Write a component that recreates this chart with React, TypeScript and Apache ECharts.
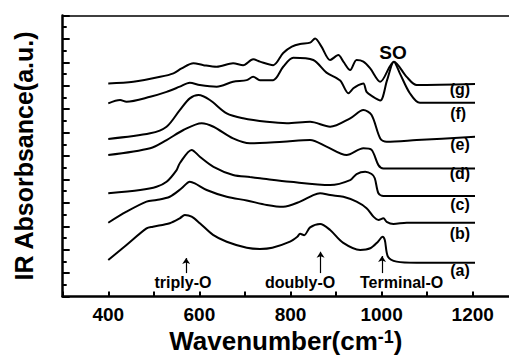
import React, { useEffect, useRef } from "react";
import * as echarts from "echarts";

// Wavenumber (cm-1) / absorbance (offset, a.u.) for each spectrum
const aX = [400, 440, 484, 498, 535, 557, 568, 583, 601, 630, 660, 704, 733, 760, 799, 815, 821, 830, 843, 865, 887, 915, 953, 975, 992, 1002, 1007, 1014, 1033, 1077, 1205];
const aY = [1.56, 2.2, 2.91, 2.98, 3.13, 3.34, 3.48, 3.41, 3.13, 2.63, 2.34, 2.08, 2.03, 2.08, 2.34, 2.55, 2.68, 2.62, 2.95, 3.1, 2.84, 2.3, 1.99, 2.06, 2.34, 2.55, 2.41, 1.7, 1.49, 1.44, 1.44];

const bX = [400, 440, 484, 506, 535, 561, 579, 590, 616, 660, 704, 748, 784, 821, 850, 865, 887, 916, 945, 967, 982, 993, 1004, 1011, 1026, 1055, 1205];
const bY = [3.15, 3.62, 4.05, 4.12, 4.26, 4.62, 4.9, 4.83, 4.55, 4.26, 4.1, 3.91, 3.83, 4.05, 4.33, 4.41, 4.33, 4.26, 4.05, 3.77, 3.41, 3.27, 3.34, 3.19, 3.1, 3.15, 3.15];

const cX = [400, 470, 506, 528, 550, 557, 583, 601, 631, 674, 711, 733, 799, 887, 931, 945, 964, 978, 985, 993, 1004, 1205];
const cY = [4.41, 4.55, 4.69, 4.9, 5.4, 5.69, 6.26, 5.97, 5.54, 5.19, 5.1, 5.05, 4.9, 4.76, 4.97, 5.23, 5.33, 5.23, 5.05, 4.41, 4.29, 4.29];

const dX = [400, 492, 528, 565, 605, 631, 674, 711, 784, 843, 879, 923, 960, 978, 993, 1004, 1205];
const dY = [6.04, 6.33, 6.68, 7.11, 7.4, 7.25, 6.75, 6.54, 6.61, 6.68, 6.4, 6.04, 6.33, 6.26, 5.61, 5.47, 5.47];

const eX = [400, 492, 528, 557, 579, 598, 623, 660, 696, 748, 792, 843, 887, 931, 960, 978, 997, 1011, 1077, 1205];
const eY = [6.73, 6.97, 7.25, 7.96, 8.46, 8.6, 8.39, 7.82, 7.61, 7.46, 7.4, 7.46, 7.25, 7.61, 7.96, 7.75, 6.75, 6.61, 6.68, 6.82];

const fX = [400, 426, 440, 492, 528, 557, 579, 601, 638, 674, 704, 718, 733, 762, 784, 806, 850, 879, 909, 927, 938, 949, 960, 967, 979, 997, 1012, 1027, 1040, 1062, 1084, 1205];
const fY = [8.25, 8.39, 8.32, 8.53, 8.74, 8.96, 9.13, 9.03, 8.96, 9.17, 9.24, 9.38, 9.24, 9.24, 9.81, 10.2, 10.1, 9.56, 9.22, 8.68, 8.89, 9.03, 9.1, 8.74, 8.56, 8.37, 9.24, 10.03, 9.53, 8.68, 8.27, 8.27];

const gX = [400, 455, 514, 543, 561, 587, 609, 638, 674, 696, 718, 733, 762, 784, 803, 821, 843, 854, 868, 887, 905, 916, 931, 945, 960, 975, 997, 1027, 1055, 1077, 1205];
const gY = [9.1, 9.17, 9.38, 9.53, 9.74, 9.96, 9.88, 9.81, 9.96, 9.88, 10.13, 10.03, 9.88, 10.4, 10.67, 10.78, 10.84, 11.02, 10.67, 10.1, 10.31, 10.03, 9.67, 10.1, 10.03, 9.74, 9.17, 10.03, 9.38, 9.03, 9.07];

const curveLabels = ["(a)", "(b)", "(c)", "(d)", "(e)", "(f)", "(g)"];
const curveLabelX = [1172, 1172, 1172, 1172, 1172, 1168, 1172];
const curveLabelY = [1.13, 2.71, 3.91, 5.27, 6.47, 7.83, 8.82];

const arrowX = [571, 866, 1001];
const arrowBottom = [1.0, 1.0, 1.0];
const arrowTop = [1.64, 1.91, 1.73];
const bandNames = ["triply-O", "doubly-O", "Terminal-O"];
const bandTextX = [564, 821, 1044];
const bandTextY = [0.58, 0.58, 0.58];

const peakName = "SO";
const peakX = 1025;
const peakY = 10.44;

const xTickLabels = [400, 600, 800, 1000, 1200];
const X_MIN = 300;
const X_MAX = 1279.6; // the frame is cut off at the right edge of the picture

const FONT = "Liberation Sans";

const zip = (xs: number[], ys: number[]) => xs.map((x, i) => [x, ys[i]]);

export default function App() {
  const ref = useRef<HTMLDivElement>(null);
  useEffect(() => {
    const chart = echarts.init(ref.current!, null, { renderer: "svg" });
    const curves = [
      [aX, aY], [bX, bY], [cX, cY], [dX, dY], [eX, eY], [fX, fY], [gX, gY],
    ];
    const lineSeries = curves.map(([xs, ys], i) => ({
      type: "line",
      name: curveLabels[i],
      data: zip(xs as number[], ys as number[]),
      showSymbol: false,
      smooth: 0.3,
      lineStyle: { color: "#000", width: 2 },
      silent: true,
      z: 3,
    }));
    const labelSeries = (names: string[], xs: number[], ys: number[], fontSize: number) => ({
      type: "scatter",
      symbolSize: 0,
      silent: true,
      itemStyle: { opacity: 1 },
      data: names.map((n, i) => ({ name: n, value: [xs[i], ys[i]] })),
      label: {
        show: true,
        position: "inside",
        formatter: "{b}",
        fontFamily: FONT,
        fontWeight: "bold",
        fontSize,
        color: "#000",
        opacity: 1,
        textBorderWidth: 0,
      },
      z: 5,
    });
    chart.setOption({
      animation: false,
      backgroundColor: "#fff",
      textStyle: { fontFamily: FONT },
      grid: { left: 62.7, right: 0, top: 15.5, bottom: 58.5, containLabel: false, outerBoundsMode: "none" },
      xAxis: [
        {
          type: "value",
          min: X_MIN,
          max: X_MAX,
          interval: 100,
          name: "Wavenumber(cm{sup|-1})",
          nameLocation: "middle",
          nameGap: 30,
          nameTextStyle: {
            fontFamily: FONT,
            fontWeight: "bold",
            fontSize: 26,
            color: "#000",
            rich: {
              sup: { fontFamily: FONT, fontWeight: "bold", fontSize: 18, color: "#000", verticalAlign: "top", lineHeight: 12, padding: [0, 0, 6, 0] },
            },
          },
          axisLine: { show: true, lineStyle: { color: "#000", width: 2.5 } },
          axisTick: { show: true, inside: true, length: 5, lineStyle: { color: "#000", width: 2 } },
          axisLabel: {
            margin: 8,
            fontFamily: FONT,
            fontWeight: "bold",
            fontSize: 19,
            color: "#000",
            showMaxLabel: false,
            formatter: (v: number) => (xTickLabels.includes(v) ? String(v) : ""),
          },
          splitLine: { show: false },
        },
        {
          type: "value",
          position: "top",
          min: X_MIN,
          max: X_MAX,
          interval: 100,
          axisLine: { show: true, lineStyle: { color: "#000", width: 1.5 } },
          axisTick: { show: false },
          axisLabel: { show: false },
          splitLine: { show: false },
        },
      ],
      yAxis: {
        type: "value",
        min: 0,
        max: 12,
        interval: 1,
        name: "IR Absorbsance(a.u.)",
        nameLocation: "middle",
        nameGap: 26,
        nameTextStyle: { fontFamily: FONT, fontWeight: "bold", fontSize: 25, color: "#000" },
        axisLine: { show: true, lineStyle: { color: "#000", width: 2.5 } },
        axisTick: { show: true, inside: true, length: 7, lineStyle: { color: "#000", width: 2 } },
        minorTick: { show: true, splitNumber: 2, length: 4, lineStyle: { color: "#000", width: 2 } },
        axisLabel: { show: false },
        splitLine: { show: false },
      },
      series: [
        ...lineSeries,
        {
          type: "line",
          data: [],
          silent: true,
          markLine: {
            silent: true,
            symbol: ["none", "arrow"],
            symbolSize: 6,
            label: { show: false },
            lineStyle: { color: "#000", width: 1.2, type: "solid" },
            data: arrowX.map((x, i) => [
              { coord: [x, arrowBottom[i]] },
              { coord: [x, arrowTop[i]] },
            ]),
          },
        },
        labelSeries(curveLabels, curveLabelX, curveLabelY, 16),
        labelSeries(bandNames, bandTextX, bandTextY, 16),
        labelSeries([peakName], [peakX], [peakY], 19),
      ],
    });
    return () => chart.dispose();
  }, []);
  return <div ref={ref} style={{ position: "absolute", left: 0, top: 0, width: 509, height: 355 }} />;
}
